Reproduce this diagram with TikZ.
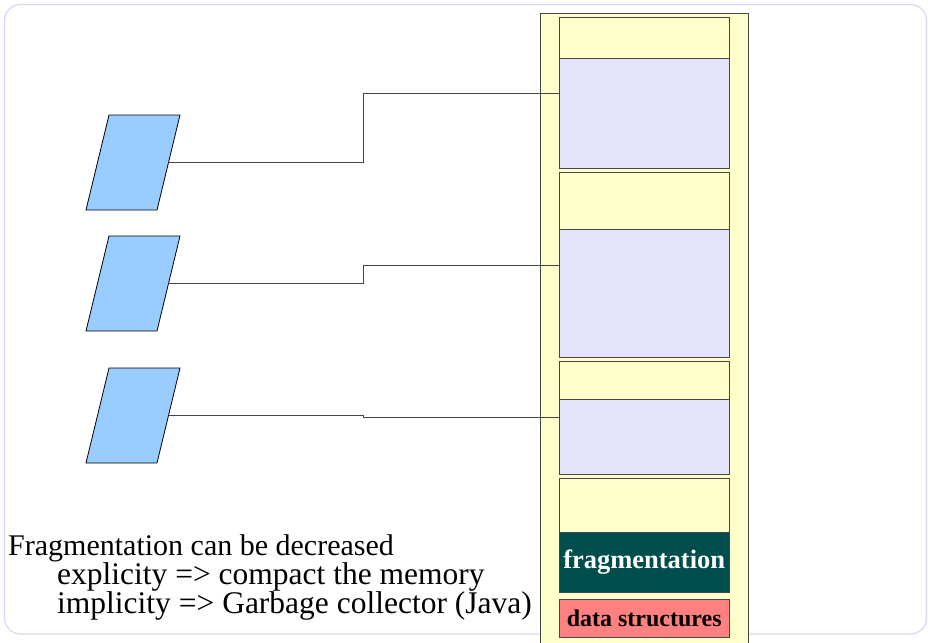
\documentclass[tikz,border=0pt]{standalone}
\usepackage{fontspec}
\setmainfont{Liberation Serif}
\definecolor{framecol}{RGB}{216,216,248}
\definecolor{colyellow}{RGB}{255,255,204}
\definecolor{blocklav}{RGB}{228,228,252}
\definecolor{paracol}{RGB}{153,204,255}
\definecolor{fragcol}{RGB}{0,77,77}
\definecolor{datacol}{RGB}{255,128,128}
\definecolor{edgegray}{RGB}{70,70,70}
\tikzset{
  memblock/.style={draw=edgegray, line width=0.9pt, minimum width=170.5pt, inner sep=0pt, anchor=north west},
  freeblock/.style={memblock, fill=colyellow},
  usedblock/.style={memblock, fill=blocklav},
  para/.style={draw=black, line width=0.8pt, fill=paracol},
  link/.style={draw=edgegray, line width=0.9pt},
  bodytext/.style={anchor=base west, inner sep=0pt, text height=19pt, text depth=5pt},
}
\begin{document}
\begin{tikzpicture}[x=1pt,y=-1pt]
\useasboundingbox (0,0) rectangle (928,642);
% background frame
\draw[framecol, line width=1.2pt, rounded corners=16pt] (4.5,4.5) rectangle (926.5,634);
% memory column
\draw[fill=colyellow, draw=edgegray, line width=0.9pt] (540,13) rectangle (748,660);
% blocks
\node[freeblock, minimum height=41pt] (b1) at (558.5,17) {};
\node[usedblock, minimum height=110pt] (b2) at (558.5,58) {};
\node[freeblock, minimum height=57pt] (b3) at (558.5,172) {};
\node[usedblock, minimum height=128pt] (b4) at (558.5,229) {};
\node[freeblock, minimum height=38pt] (b5) at (558.5,361) {};
\node[usedblock, minimum height=75pt] (b6) at (558.5,399) {};
\node[freeblock, minimum height=54pt] (b7) at (558.5,478) {};
\node[memblock, fill=fragcol, minimum height=60pt, text=white, font=\fontsize{26.5}{26.5}\selectfont\bfseries] (frag) at (558.5,532) {fragmentation};
\node[memblock, fill=datacol, minimum height=38pt, text=black, font=\fontsize{24}{24}\selectfont\bfseries] (data) at (558.5,599) {data structures};
% parallelograms
\draw[para] (86,210) -- (109,115) -- (180,115) -- (157,210) -- cycle;
\coordinate (p1) at (168.5,162.5);
\draw[para] (86,331) -- (109,236) -- (180,236) -- (157,331) -- cycle;
\coordinate (p2) at (168.5,283.5);
\draw[para] (86,463) -- (109,368) -- (180,368) -- (157,463) -- cycle;
\coordinate (p3) at (168.5,415.5);
% connectors
\draw[link] (p1) -- (363,162.5) -- (363,93) -- (b2.west |- 0,93);
\draw[link] (p2) -- (363,283.5) -- (363,265) -- (b4.west |- 0,265);
\draw[link] (p3) -- (363,415.5) -- (363,417.5) -- (b6.west |- 0,417.5);
% text
\node[bodytext, font=\fontsize{30}{30}\selectfont] (txt1) at (8,555) {Fragmentation can be decreased};
\node[bodytext, font=\fontsize{31.5}{31.5}\selectfont] (txt2) at (57,584) {explicity => compact the memory};
\node[bodytext, font=\fontsize{31.5}{31.5}\selectfont] (txt3) at (57,613) {implicity => Garbage collector (Java)};
\end{tikzpicture}
\end{document}
